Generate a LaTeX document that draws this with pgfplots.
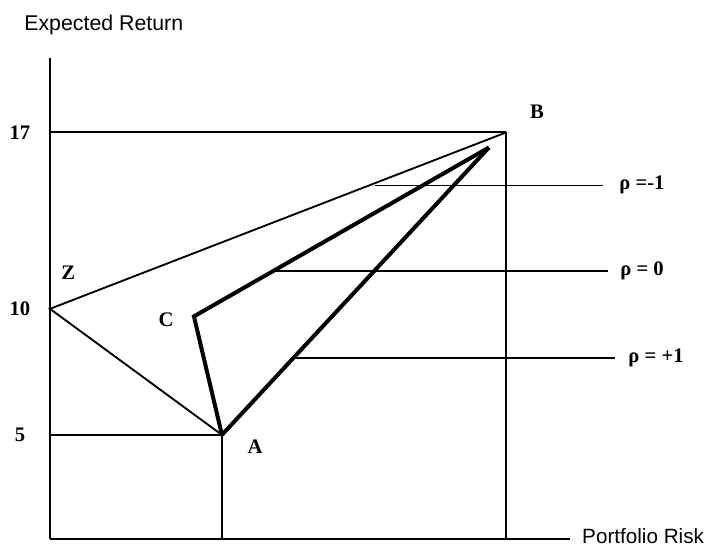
\documentclass[border=0pt]{standalone}
\usepackage{fontspec}
\setmainfont{Liberation Serif}
\newfontfamily\arialfont{Liberation Sans}
\usepackage{pgfplots}
\pgfplotsset{compat=1.18}
\begin{document}
\begin{tikzpicture}
\begin{axis}[
  x=18.91pt, y=18.91pt,
  xmin=0, xmax=20.63, ymin=0.87, ymax=19.95,
  axis lines=left,
  axis line style={-, line width=1.3pt, black},
  xtick=\empty,
  ytick={5,10,17},
  yticklabels={5,10,17},
  major tick length=0pt,
  yticklabel style={anchor=center, xshift=-22.5pt, font=\fontsize{15.5}{17}\selectfont\bfseries},
  clip=false,
]
% guide lines
\addplot[black, line width=1.3pt] coordinates {(0,17) (18.1,17)};
\addplot[black, line width=1.3pt] coordinates {(0,5) (6.82,5)};
\addplot[black, line width=1.3pt] coordinates {(18.1,17) (18.1,0.87)};
\addplot[black, line width=1.3pt] coordinates {(6.82,5) (6.82,0.87)};
% rho = -1 : Z - B and Z - A
\addplot[black, line width=1.4pt] coordinates {(6.82,5) (0,10) (18.1,17)};
% rho = 0 : A - C - B
\addplot[black, line width=3pt, line join=miter] coordinates {(6.82,5) (5.71,9.7) (17.41,16.4)};
% rho = +1 : A - B
\addplot[black, line width=3pt] coordinates {(6.82,5) (17.41,16.4)};
% pointer lines
\addplot[black, line width=1.1pt] coordinates {(12.9,14.9) (21.94,14.9)};
\addplot[black, line width=1.1pt] coordinates {(8.9,11.5) (22.13,11.5)};
\addplot[black, line width=1.1pt] coordinates {(9.72,8.05) (22.41,8.05)};
% labels
\node[font=\fontsize{15.5}{17}\selectfont\bfseries] at (axis cs:19.32,17.8) {B};
\node[font=\fontsize{15.5}{17}\selectfont\bfseries] at (axis cs:0.72,11.42) {Z};
\node[font=\fontsize{15.5}{17}\selectfont\bfseries] at (axis cs:4.6,9.56) {C};
\node[font=\fontsize{15.5}{17}\selectfont\bfseries] at (axis cs:8.13,4.52) {A};
\node[anchor=west, inner sep=0pt, font=\fontsize{15.5}{17}\selectfont\bfseries] at (axis cs:22.57,14.9) {ρ =-1};
\node[anchor=west, inner sep=0pt, font=\fontsize{15.5}{17}\selectfont\bfseries] at (axis cs:22.61,11.5) {ρ = 0};
\node[anchor=west, inner sep=0pt, font=\fontsize{15.5}{17}\selectfont\bfseries] at (axis cs:22.93,8.05) {ρ = +1};
\node[anchor=west, inner sep=0pt, font=\arialfont\fontsize{16}{18}\selectfont] at (axis cs:-1.03,21.26) {Expected Return};
\node[anchor=west, inner sep=0pt, font=\arialfont\fontsize{15.5}{17}\selectfont] at (axis cs:21.1,1.0) {Portfolio Risk};
\coordinate (bl) at (axis cs:-1.983,0.592);
\coordinate (tr) at (axis cs:26.02,22.25);
\end{axis}
\pgfresetboundingbox
\path[use as bounding box] (bl) rectangle (tr);
\end{tikzpicture}
\end{document}
